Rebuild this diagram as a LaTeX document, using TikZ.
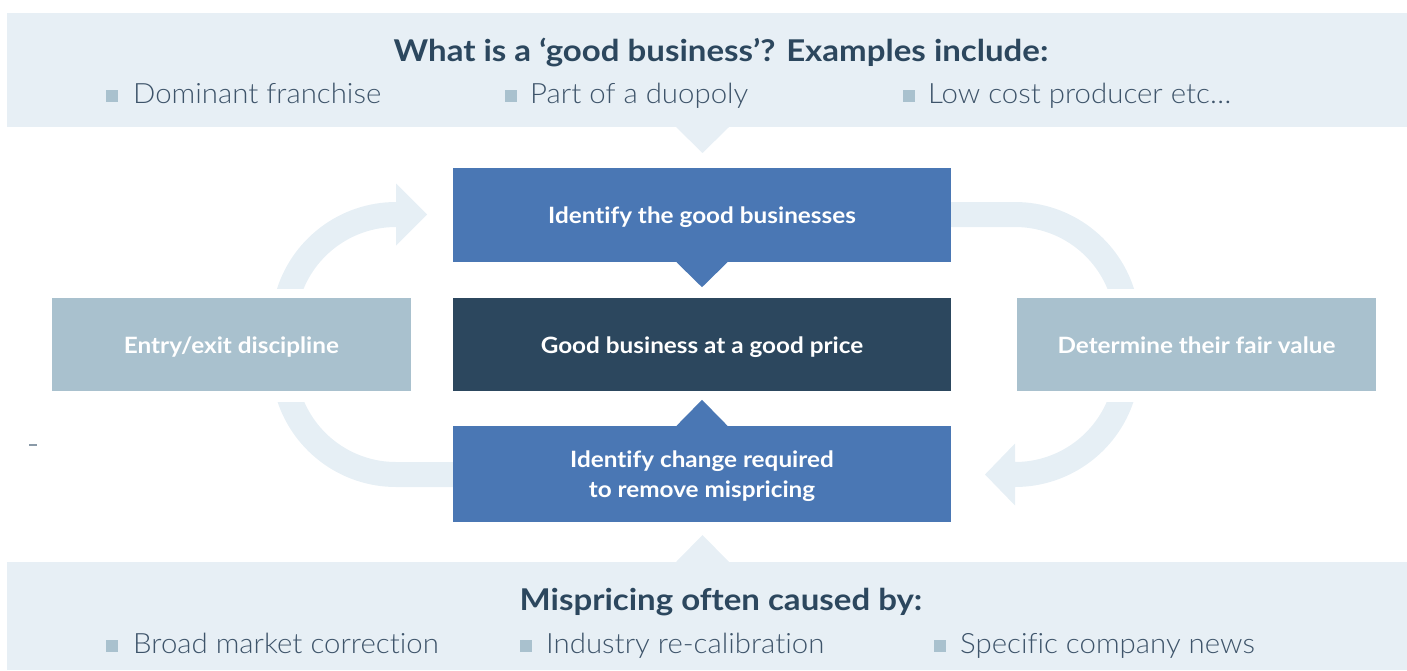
\documentclass[tikz,border=0pt]{standalone}
\usepackage{fontspec}
\setmainfont{Lato}[Ligatures=NoCommon]
\IfFontExistsTF{Lato Light}{\newfontfamily\bulletfont{Lato Light}[FakeStretch=1.05,Ligatures=NoCommon]}{\newfontfamily\bulletfont{Lato}[FakeStretch=1.05,Ligatures=NoCommon]}
\newfontfamily\titlefont{Lato}[FakeStretch=1.10,Ligatures=NoCommon]
\newfontfamily\boxfont{Lato}[FakeStretch=1.08,Ligatures=NoCommon]
\usetikzlibrary{calc}
\definecolor{bannerc}{HTML}{E7EFF5}
\definecolor{arrowc}{HTML}{E6EFF5}
\definecolor{bluec}{HTML}{4A77B4}
\definecolor{darkc}{HTML}{2C475E}
\definecolor{sidec}{HTML}{A9C1CE}
\definecolor{titlec}{HTML}{2C475E}
\definecolor{bullettextc}{HTML}{3E546A}
\definecolor{dashc}{HTML}{8A9AA8}
\tikzset{
  box/.style={inner sep=0pt, text=white, font=\boxfont\fontsize{22.5}{30}\selectfont\bfseries, align=center},
  bluebox/.style={box, fill=bluec, minimum width=498pt},
  darkbox/.style={box, fill=darkc, minimum width=498pt, minimum height=93pt},
  sidebox/.style={box, fill=sidec, minimum width=359pt, minimum height=93pt},
  onelinetext/.style={text height=19pt, text depth=2pt},
  headtext/.style={inner sep=0pt, anchor=base, text=titlec, font=\titlefont\fontsize{30}{34}\selectfont\bfseries},
  itemtext/.style={inner sep=0pt, anchor=base west, text=bullettextc, font=\bulletfont\fontsize{28}{32}\selectfont},
  bulletsq/.style={fill=sidec, minimum size=12pt, inner sep=0pt},
}
\begin{document}
\begin{tikzpicture}[x=1pt,y=-1pt]
\useasboundingbox (0,0) rectangle (1407,670);
% banners
\fill[bannerc] (7,13) rectangle (1407,127);
\fill[bannerc] (676,127) -- (729,127) -- (702.5,153) -- cycle;
\fill[bannerc] (7,562) rectangle (1407,670);
\fill[bannerc] (676,562) -- (729,562) -- (702.5,535) -- cycle;
% cycle arrows
\coordinate (cTL) at (396,327);
\coordinate (cTR) at (1015,327);
\coordinate (cBL) at (396,362);
\coordinate (cBR) at (1015,362);
\begin{scope}
\clip (0,0) rectangle (1407,288);
\fill[arrowc] (396,202) arc[start angle=270, end angle=195, radius=125]
  -- ($(cTL)+(195:100)$) arc[start angle=195, end angle=270, radius=100]
  -- (396,245.5) -- (427,214.5) -- (396,183.5) -- cycle;
\fill[arrowc] (951,202) -- (1015,202) arc[start angle=270, end angle=345, radius=125]
  -- ($(cTR)+(345:100)$) arc[start angle=345, end angle=270, radius=100]
  -- (951,227) -- cycle;
\end{scope}
\begin{scope}
\clip (0,402) rectangle (1407,670);
\fill[arrowc] (453,462) -- (396,462) arc[start angle=90, end angle=165, radius=100]
  -- ($(cBL)+(165:125)$) arc[start angle=165, end angle=90, radius=125]
  -- (453,487) -- cycle;
\fill[arrowc] (1015,487) arc[start angle=90, end angle=15, radius=125]
  -- ($(cBR)+(15:100)$) arc[start angle=15, end angle=90, radius=100]
  -- (1015,443.5) -- (985,474.5) -- (1015,505.5) -- cycle;
\end{scope}
% boxes
\node[bluebox, onelinetext, minimum height=94pt] (n1) at (702,215) {Identify the good businesses};
\node[darkbox, onelinetext] (n2) at (702,344.5) {Good business at a good price};
\node[bluebox, minimum height=96pt] (n3) at (702,474) {};
\node[box, anchor=center] (n3text) at (702,476) {Identify change required\\to remove mispricing};
\node[sidebox, onelinetext] (n4) at (231.5,344.5) {Entry/exit discipline};
\node[sidebox, onelinetext] (n5) at (1196.5,344.5) {Determine their fair value};
\fill[bluec] ($(n1.south)+(-25.5,0)$) -- ($(n1.south)+(25.5,0)$) -- ($(n1.south)+(0,25)$) -- cycle;
\fill[bluec] ($(n3.north)+(-25.5,0)$) -- ($(n3.north)+(25.5,0)$) -- ($(n3.north)+(0,-26)$) -- cycle;
% small dash
\draw[dashc, line width=1.2pt] (29,445) -- (37,445);
% top texts
\node[headtext] (t1) at (721,61) {What is a ‘good business’? Examples include:};
\node[bulletsq] (b1) at (112,96) {};
\node[itemtext] (i1) at (133,103) {Dominant franchise};
\node[bulletsq] (b2) at (511,96) {};
\node[itemtext] (i2) at (530,103) {Part of a duopoly};
\node[bulletsq] (b3) at (909,96) {};
\node[itemtext] (i3) at (928,103) {Low cost producer etc…};
% bottom texts
\node[headtext] (t2) at (721,610) {Mispricing often caused by:};
\node[bulletsq] (b4) at (112,646) {};
\node[itemtext] (i4) at (133,653) {Broad market correction};
\node[bulletsq] (b5) at (526,646) {};
\node[itemtext] (i5) at (546,653) {Industry re-calibration};
\node[bulletsq] (b6) at (940,646) {};
\node[itemtext] (i6) at (960,653) {Specific company news};
\end{tikzpicture}
\end{document}
